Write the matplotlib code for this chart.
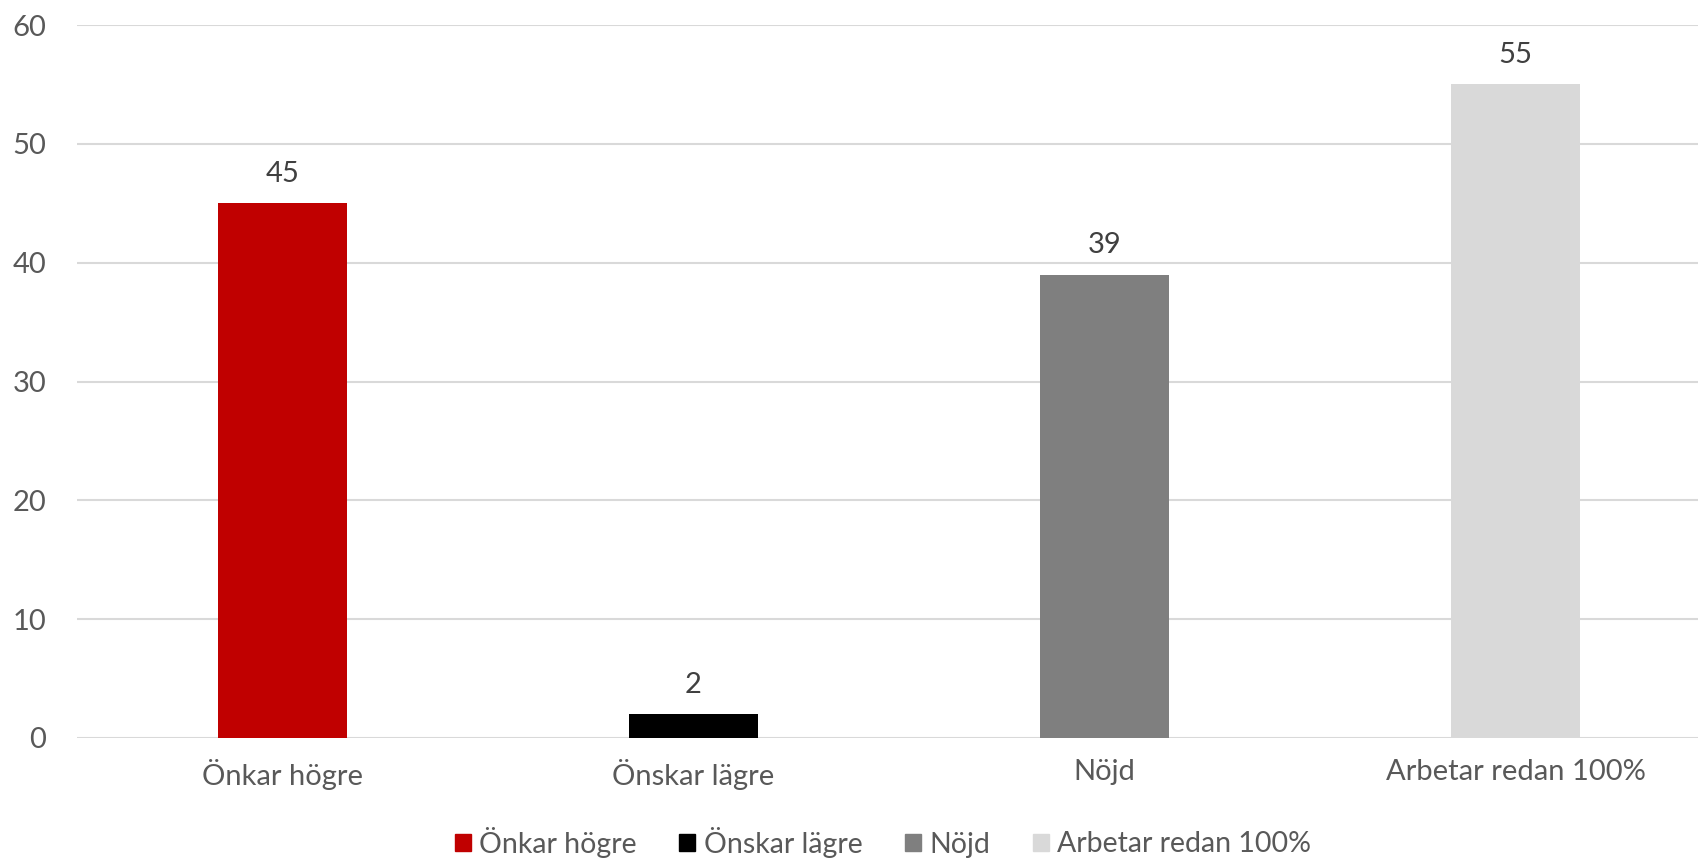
import matplotlib.pyplot as plt
from matplotlib.patches import Patch

categories = ['Önkar högre', 'Önskar lägre', 'Nöjd', 'Arbetar redan 100%']
values = [45, 2, 39, 55]
colors = ['#C00000', '#000000', '#7F7F7F', '#D9D9D9']

plt.rcParams['font.family'] = ['Lato', 'DejaVu Sans']

fig = plt.figure(figsize=(16.98, 8.58), dpi=100)
ax = fig.add_axes([77 / 1698, 120 / 858, 1 - 77 / 1698, (738 - 25) / 858])

x = range(len(categories))
bars = ax.bar(x, values, width=0.314, color=colors, zorder=3)

for b, v in zip(bars, values):
    ax.annotate(str(v), (b.get_x() + b.get_width() / 2, v), xytext=(0, 12),
                textcoords='offset points', ha='center', va='bottom',
                fontsize=21, color='#404040')

ax.set_ylim(0, 60)
ax.set_xlim(-0.5, 3.444)
ax.set_yticks(range(0, 61, 10))
ax.set_xticks(list(x))
ax.set_xticklabels(categories)
ax.tick_params(axis='both', length=0, labelsize=21, colors='#595959')
ax.tick_params(axis='x', pad=15)
ax.tick_params(axis='y', pad=22)
ax.grid(axis='y', color='#D9D9D9', linewidth=1.5, zorder=0)
for s in ax.spines.values():
    s.set_visible(False)

handles = [Patch(color=c, label=l) for c, l in zip(colors, categories)]
fig.legend(handles=handles, loc='center', bbox_to_anchor=(883 / 1698, 1 - 842 / 858),
           ncol=4, frameon=False, fontsize=20.5, labelcolor='#595959',
           handlelength=0.55, handleheight=0.55, handletextpad=0.3, columnspacing=1.5)

fig.savefig('out.png', dpi=100)
